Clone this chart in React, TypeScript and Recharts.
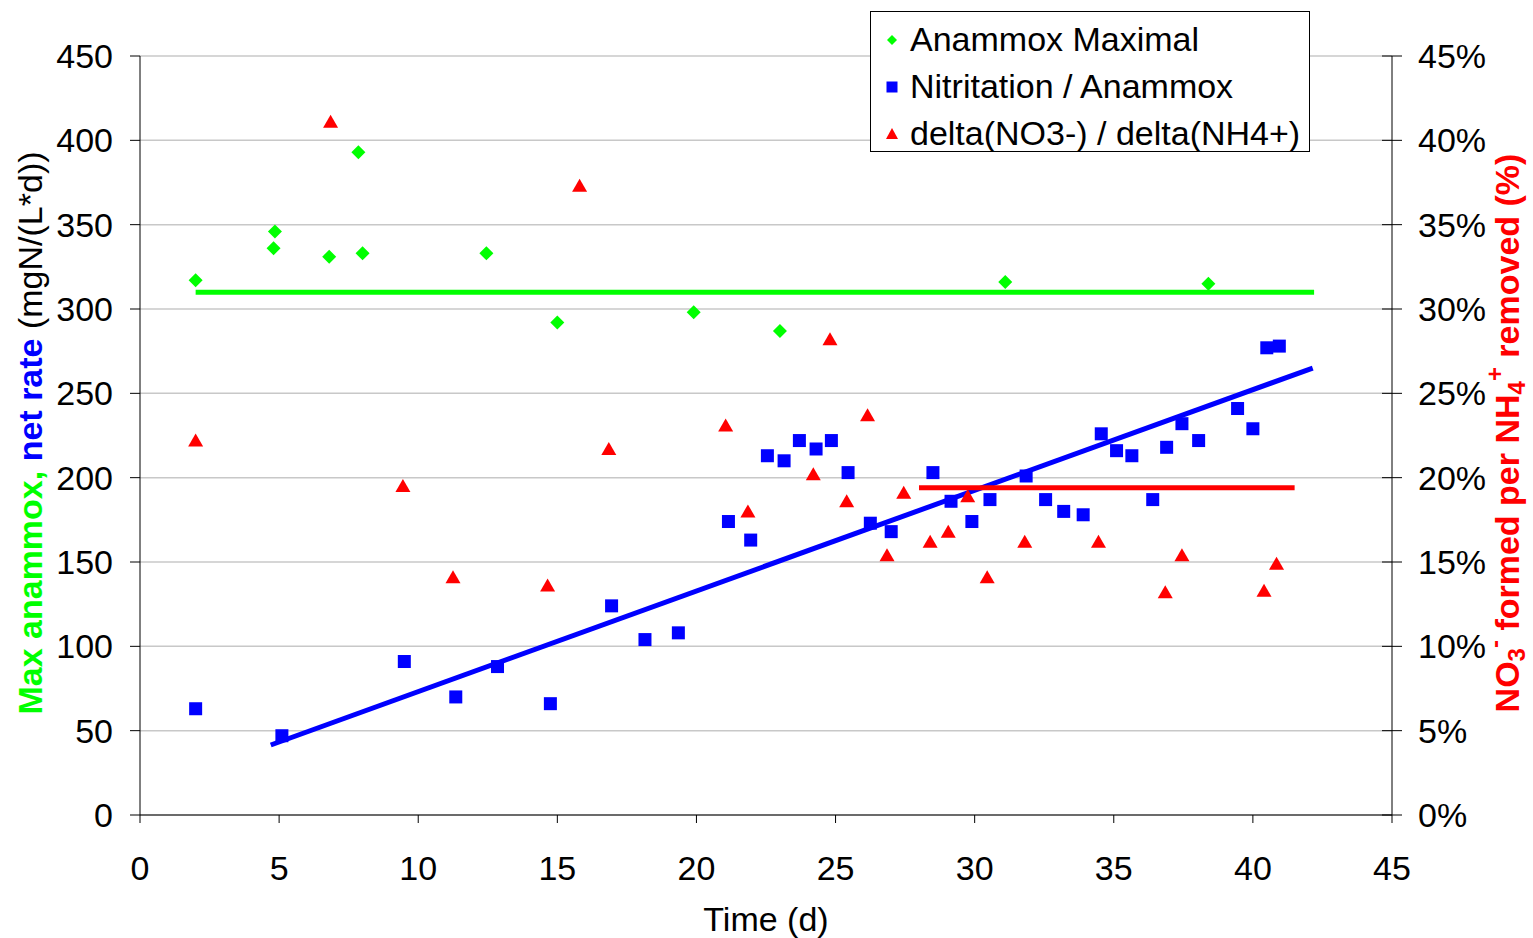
import {
  CartesianGrid,
  Scatter,
  ScatterChart,
  XAxis,
  YAxis,
} from "recharts";

const FONT = '"Liberation Sans", Arial, sans-serif';

// Anammox maximal rate (mgN/(L*d)) vs time (d)
const anammoxMax = [
  { x: 2.0, y: 317 },
  { x: 4.8, y: 336 },
  { x: 4.85, y: 346 },
  { x: 6.8, y: 331 },
  { x: 7.85, y: 393 },
  { x: 8.0, y: 333 },
  { x: 12.45, y: 333 },
  { x: 15.0, y: 292 },
  { x: 19.9, y: 298 },
  { x: 23.0, y: 287 },
  { x: 31.1, y: 316 },
  { x: 38.4, y: 315 },
];

// Nitritation / anammox net rate
const netRate = [
  { x: 2.0, y: 63 },
  { x: 5.1, y: 47 },
  { x: 9.5, y: 91 },
  { x: 11.35, y: 70 },
  { x: 12.85, y: 88 },
  { x: 14.75, y: 66 },
  { x: 16.95, y: 124 },
  { x: 18.15, y: 104 },
  { x: 19.35, y: 108 },
  { x: 21.15, y: 174 },
  { x: 21.95, y: 163 },
  { x: 22.55, y: 213 },
  { x: 23.15, y: 210 },
  { x: 23.7, y: 222 },
  { x: 24.3, y: 217 },
  { x: 24.85, y: 222 },
  { x: 25.45, y: 203 },
  { x: 26.25, y: 173 },
  { x: 27.0, y: 168 },
  { x: 28.5, y: 203 },
  { x: 29.15, y: 186 },
  { x: 29.9, y: 174 },
  { x: 30.55, y: 187 },
  { x: 31.85, y: 201 },
  { x: 32.55, y: 187 },
  { x: 33.2, y: 180 },
  { x: 33.9, y: 178 },
  { x: 34.55, y: 226 },
  { x: 35.1, y: 216 },
  { x: 35.65, y: 213 },
  { x: 36.4, y: 187 },
  { x: 36.9, y: 218 },
  { x: 37.45, y: 232 },
  { x: 38.05, y: 222 },
  { x: 39.45, y: 241 },
  { x: 40.0, y: 229 },
  { x: 40.5, y: 277 },
  { x: 40.95, y: 278 },
];

// delta(NO3-) / delta(NH4+) in %
const nitrateRatio = [
  { x: 2.0, y: 22.2 },
  { x: 6.85, y: 41.1 },
  { x: 9.45, y: 19.5 },
  { x: 11.25, y: 14.1 },
  { x: 14.65, y: 13.6 },
  { x: 15.8, y: 37.3 },
  { x: 16.85, y: 21.7 },
  { x: 21.05, y: 23.1 },
  { x: 21.85, y: 18.0 },
  { x: 24.2, y: 20.2 },
  { x: 24.8, y: 28.2 },
  { x: 25.4, y: 18.6 },
  { x: 26.15, y: 23.7 },
  { x: 26.85, y: 15.4 },
  { x: 27.45, y: 19.1 },
  { x: 28.4, y: 16.2 },
  { x: 29.05, y: 16.8 },
  { x: 29.75, y: 18.9 },
  { x: 30.45, y: 14.1 },
  { x: 31.8, y: 16.2 },
  { x: 34.45, y: 16.2 },
  { x: 36.85, y: 13.2 },
  { x: 37.45, y: 15.4 },
  { x: 40.4, y: 13.3 },
  { x: 40.85, y: 14.9 },
];

// average / trend lines
const anammoxAvg = [
  { x: 2.0, y: 310 },
  { x: 42.2, y: 310 },
];
const netRateTrend = [
  { x: 4.7, y: 41.5 },
  { x: 42.15, y: 265 },
];
const ratioAvg = [
  { x: 28.0, y: 19.4 },
  { x: 41.5, y: 19.4 },
];

const xTicks = [0, 5, 10, 15, 20, 25, 30, 35, 40, 45];
const leftTicks = [0, 50, 100, 150, 200, 250, 300, 350, 400, 450];
const rightTicks = [0, 5, 10, 15, 20, 25, 30, 35, 40, 45];

const Diamond = (p: any) => (
  <polygon
    points={`${p.cx},${p.cy - 7} ${p.cx + 7},${p.cy} ${p.cx},${p.cy + 7} ${p.cx - 7},${p.cy}`}
    fill="#00ff00"
  />
);
const Square = (p: any) => (
  <rect x={p.cx - 6.5} y={p.cy - 6.5} width={13} height={13} fill="#0000ff" />
);
const Triangle = (p: any) => (
  <polygon
    points={`${p.cx},${p.cy - 7} ${p.cx + 7.5},${p.cy + 6} ${p.cx - 7.5},${p.cy + 6}`}
    fill="#ff0000"
  />
);
const NoDot = () => <g />;

const RightTick = (p: any) => {
  const ax = p.x - 26;
  return (
    <g>
      <line x1={ax - 10} x2={ax + 10} y1={p.y} y2={p.y} stroke="#000" />
      <text x={p.x} y={p.y} dy="0.355em" textAnchor="start" fontSize={34} fontFamily={FONT} fill="#000">
        {`${p.payload.value}%`}
      </text>
    </g>
  );
};

const LeftLabel = () => (
  <text
    transform="translate(42, 433) rotate(-90)"
    textAnchor="middle"
    fontSize={34}
    fontFamily={FONT}
  >
    <tspan fill="#00ff00" fontWeight="bold">Max anammox, </tspan>
    <tspan fill="#0000ff" fontWeight="bold">net rate </tspan>
    <tspan fill="#000">(mgN/(L*d))</tspan>
  </text>
);

const RightLabel = () => (
  <text
    transform="translate(1519, 433) rotate(-90)"
    textAnchor="middle"
    fontSize={34}
    fontFamily={FONT}
    fontWeight="bold"
    fill="#ff0000"
  >
    <tspan>NO</tspan>
    <tspan fontSize={24} dy={6}>3</tspan>
    <tspan fontSize={24} dy={-22}>-</tspan>
    <tspan dy={16}> formed per NH</tspan>
    <tspan fontSize={24} dy={6}>4</tspan>
    <tspan fontSize={24} dy={-22}>+</tspan>
    <tspan dy={16}> removed (%)</tspan>
  </text>
);

const legendItems = [
  { name: "Anammox Maximal", shape: "diamond", color: "#00ff00" },
  { name: "Nitritation / Anammox", shape: "square", color: "#0000ff" },
  { name: "delta(NO3-) / delta(NH4+)", shape: "triangle", color: "#ff0000" },
];

function LegendBox() {
  return (
    <div
      style={{
        position: "absolute",
        left: 870,
        top: 11,
        width: 438,
        height: 139,
        border: "1px solid #000",
        background: "#fff",
        fontFamily: FONT,
        fontSize: 34,
        color: "#000",
      }}
    >
      {legendItems.map((it, i) => (
        <div
          key={it.name}
          style={{
            position: "absolute",
            left: 0,
            top: 4 + i * 47,
            height: 47,
            display: "flex",
            alignItems: "center",
            whiteSpace: "nowrap",
          }}
        >
          <svg width={39} height={20} style={{ flex: "none" }}>
            {it.shape === "diamond" && (
              <polygon points="21,5 26,10 21,15 16,10" fill={it.color} />
            )}
            {it.shape === "square" && <rect x={15.5} y={4.5} width={11} height={11} fill={it.color} />}
            {it.shape === "triangle" && (
              <polygon points="21,4 27,15 15,15" fill={it.color} />
            )}
          </svg>
          <span>{it.name}</span>
        </div>
      ))}
    </div>
  );
}

export default function App() {
  return (
    <div style={{ position: "absolute", left: 0, top: 0, width: 1533, height: 938, background: "#fff" }}>
      <ScatterChart
        width={1533}
        height={938}
        margin={{ top: 56, right: 31, bottom: 0, left: 20 }}
      >
        <CartesianGrid
          yAxisId="left"
          vertical={false}
          stroke="#c8c8c8"
          strokeWidth={1.5}
        />
        <XAxis
          type="number"
          dataKey="x"
          domain={[0, 45]}
          ticks={xTicks}
          interval={0}
          height={123}
          stroke="#000"
          tickSize={8}
          tickMargin={33}
          tick={{ fontSize: 34, fontFamily: FONT, fill: "#000" }}
          label={{
            value: "Time (d)",
            position: "insideBottom",
            offset: 7,
            fontSize: 34,
            fontFamily: FONT,
            fill: "#000",
          }}
        />
        <YAxis
          yAxisId="left"
          type="number"
          dataKey="y"
          domain={[0, 450]}
          ticks={leftTicks}
          interval={0}
          width={120}
          stroke="#000"
          tickSize={10}
          tickMargin={17}
          tick={{ fontSize: 34, fontFamily: FONT, fill: "#000" }}
          label={{ content: LeftLabel }}
        />
        <YAxis
          yAxisId="right"
          orientation="right"
          type="number"
          dataKey="y"
          domain={[0, 45]}
          ticks={rightTicks}
          interval={0}
          width={110}
          stroke="#000"
          tickLine={false}
          tickSize={10}
          tickMargin={16}
          tick={RightTick}
          label={{ content: RightLabel }}
        />
        <Scatter
          yAxisId="left"
          data={anammoxAvg}
          line={{ stroke: "#00ff00", strokeWidth: 5 }}
          shape={NoDot}
          isAnimationActive={false}
        />
        <Scatter
          yAxisId="left"
          data={netRateTrend}
          line={{ stroke: "#0000ff", strokeWidth: 5 }}
          shape={NoDot}
          isAnimationActive={false}
        />
        <Scatter
          yAxisId="right"
          data={ratioAvg}
          line={{ stroke: "#ff0000", strokeWidth: 5 }}
          shape={NoDot}
          isAnimationActive={false}
        />
        <Scatter
          name="Anammox Maximal"
          yAxisId="left"
          data={anammoxMax}
          shape={Diamond}
          isAnimationActive={false}
        />
        <Scatter
          name="Nitritation / Anammox"
          yAxisId="left"
          data={netRate}
          shape={Square}
          isAnimationActive={false}
        />
        <Scatter
          name="delta(NO3-) / delta(NH4+)"
          yAxisId="right"
          data={nitrateRatio}
          shape={Triangle}
          isAnimationActive={false}
        />
      </ScatterChart>
      <LegendBox />
    </div>
  );
}
